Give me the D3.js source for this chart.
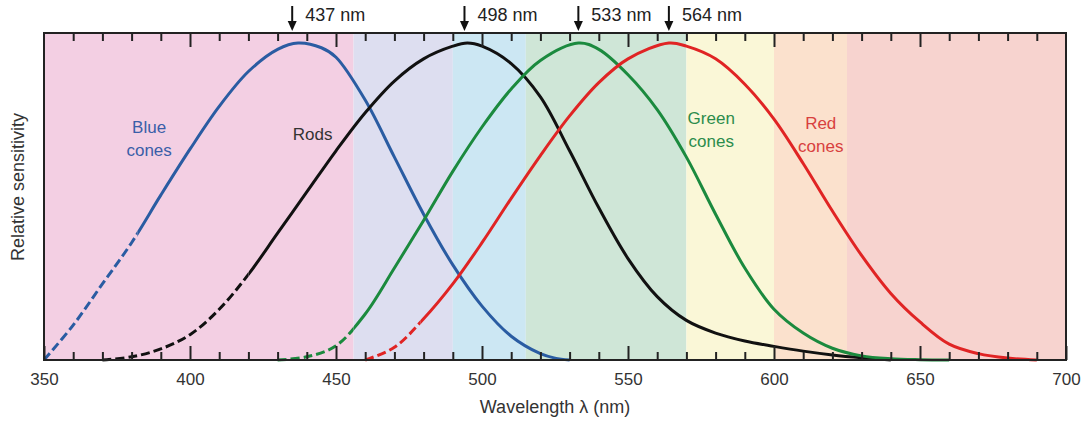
<html>
<head>
<meta charset="utf-8">
<title>Spectral sensitivity</title>
<style>
  body { margin: 0; background: #fff; }
  text { font-family: "Liberation Sans", Arial, sans-serif; }
</style>
<script src="https://d3js.org/d3.v7.min.js"></script>
</head>
<body>
<script>
// background bands (nm) and their colours
var bandStart = [350, 456, 490, 515, 570, 600, 625];
var bandEnd   = [456, 490, 515, 570, 600, 625, 700];
var bandColor = ["#f3cfe3", "#dddef0", "#cce7f3", "#cfe6d7", "#faf7d7", "#fbe1cd", "#f7d3cf"];

// curves
var blueNm  = [350, 360, 370, 380, 390, 400, 410, 420, 430, 437, 445, 450, 460, 470, 480, 490, 500, 510, 520, 525, 530];
var blueVal = [0, 0.11, 0.24, 0.37, 0.52, 0.665, 0.80, 0.91, 0.98, 1.0, 0.985, 0.955, 0.82, 0.64, 0.46, 0.30, 0.17, 0.075, 0.02, 0.006, 0];

var rodNm  = [370, 380, 390, 400, 410, 420, 430, 440, 450, 460, 470, 480, 490, 495, 500, 510, 520, 530, 540, 550, 560, 570, 580, 590, 600, 610, 620, 630, 640];
var rodVal = [0, 0.01, 0.035, 0.08, 0.16, 0.27, 0.40, 0.53, 0.66, 0.78, 0.88, 0.95, 0.99, 1.0, 0.99, 0.935, 0.83, 0.66, 0.48, 0.32, 0.20, 0.125, 0.085, 0.06, 0.043, 0.028, 0.016, 0.007, 0];

var greenNm  = [430, 440, 450, 460, 470, 480, 490, 500, 510, 520, 533, 540, 550, 560, 570, 580, 590, 600, 610, 620, 630, 640, 650, 660];
var greenVal = [0, 0.01, 0.045, 0.145, 0.29, 0.44, 0.595, 0.735, 0.855, 0.945, 1.0, 0.98, 0.90, 0.79, 0.64, 0.46, 0.29, 0.16, 0.085, 0.037, 0.013, 0.004, 0.001, 0];

var redNm  = [460, 470, 480, 490, 500, 510, 520, 530, 540, 550, 564, 570, 580, 590, 600, 610, 620, 630, 640, 650, 660, 670, 680, 690];
var redVal = [0, 0.04, 0.13, 0.24, 0.37, 0.51, 0.645, 0.77, 0.875, 0.95, 1.0, 0.99, 0.95, 0.87, 0.76, 0.62, 0.47, 0.33, 0.21, 0.12, 0.05, 0.02, 0.006, 0];

// where each curve turns from dashed to solid
var dashEnd = [382, 420, 456, 479];
var curveColor = ["#2a5ca2", "#111111", "#1b8a3e", "#e02424"];

// peak markers at the top
var peakNm = [435, 494, 533, 564];
var peakLabel = ["437 nm", "498 nm", "533 nm", "564 nm"];

var xTicks = [350, 400, 450, 500, 550, 600, 650, 700];

var width = 1089, height = 423;
var plotL = 44, plotR = 1066, plotT = 33, plotB = 360;

var svg = d3.select("body").append("svg")
    .attr("width", width)
    .attr("height", height);

var x = d3.scaleLinear().domain([350, 700]).range([plotL, plotR]);
var y = d3.scaleLinear().domain([0, 1]).range([plotB, 43]);

// bands
svg.append("g").selectAll("rect")
    .data(bandStart)
    .enter().append("rect")
    .attr("x", d => x(d))
    .attr("y", plotT)
    .attr("width", (d, i) => x(bandEnd[i]) - x(d))
    .attr("height", plotB - plotT)
    .attr("fill", (d, i) => bandColor[i]);

// clip regions for the dashed / solid parts
var defs = svg.append("defs");
dashEnd.forEach(function (e, i) {
    defs.append("clipPath").attr("id", "dash" + i).append("rect")
        .attr("x", plotL - 5).attr("y", 0)
        .attr("width", x(e) - plotL + 5).attr("height", plotB + 2);
    defs.append("clipPath").attr("id", "solid" + i).append("rect")
        .attr("x", x(e)).attr("y", 0)
        .attr("width", plotR - x(e) + 5).attr("height", plotB + 2);
});

var series = [
    d3.zip(blueNm, blueVal),
    d3.zip(rodNm, rodVal),
    d3.zip(greenNm, greenVal),
    d3.zip(redNm, redVal)
];

var line = d3.line()
    .x(d => x(d[0]))
    .y(d => y(d[1]))
    .curve(d3.curveCatmullRom.alpha(0.5));

var curves = svg.append("g").attr("fill", "none").attr("stroke-width", 3);
series.forEach(function (s, i) {
    curves.append("path")
        .attr("d", line(s))
        .attr("stroke", curveColor[i])
        .attr("stroke-dasharray", "9,4")
        .attr("clip-path", "url(#dash" + i + ")");
    curves.append("path")
        .attr("d", line(s))
        .attr("stroke", curveColor[i])
        .attr("clip-path", "url(#solid" + i + ")");
});

// ticks (inward, top and bottom)
var minor = d3.range(360, 700, 10).filter(d => d % 50 !== 0);
var inner = d3.range(400, 700, 50);

svg.append("g")
    .attr("transform", "translate(0," + plotB + ")")
    .call(d3.axisBottom(x).tickValues(xTicks).tickSizeInner(-14).tickSizeOuter(0).tickPadding(13))
    .call(g => g.select(".domain").remove())
    .call(g => g.selectAll("line").attr("stroke", "#222").attr("stroke-width", 2))
    .call(g => g.selectAll("text").attr("font-size", 17).attr("fill", "#333")
        .attr("font-family", "'Liberation Sans', Arial, sans-serif"));

svg.append("g")
    .attr("transform", "translate(0," + plotB + ")")
    .call(d3.axisBottom(x).tickValues(minor).tickSize(-8).tickFormat(""))
    .call(g => g.select(".domain").remove())
    .call(g => g.selectAll("line").attr("stroke", "#222").attr("stroke-width", 2));

svg.append("g")
    .attr("transform", "translate(0," + plotT + ")")
    .call(d3.axisTop(x).tickValues(inner).tickSize(-14).tickFormat(""))
    .call(g => g.select(".domain").remove())
    .call(g => g.selectAll("line").attr("stroke", "#222").attr("stroke-width", 2));

svg.append("g")
    .attr("transform", "translate(0," + plotT + ")")
    .call(d3.axisTop(x).tickValues(minor).tickSize(-8).tickFormat(""))
    .call(g => g.select(".domain").remove())
    .call(g => g.selectAll("line").attr("stroke", "#222").attr("stroke-width", 2));

// frame
svg.append("rect")
    .attr("x", plotL).attr("y", plotT)
    .attr("width", plotR - plotL).attr("height", plotB - plotT)
    .attr("fill", "none")
    .attr("stroke", "#222")
    .attr("stroke-width", 2);

// peak arrows
var arrows = svg.append("g");
peakNm.forEach(function (p, i) {
    var px = x(p);
    arrows.append("line")
        .attr("x1", px).attr("x2", px)
        .attr("y1", 6).attr("y2", 24)
        .attr("stroke", "#111").attr("stroke-width", 2);
    arrows.append("path")
        .attr("d", "M" + (px - 4.5) + ",21L" + (px + 4.5) + ",21L" + px + ",31Z")
        .attr("fill", "#111");
    arrows.append("text")
        .attr("x", px + 13).attr("y", 21)
        .attr("font-size", 18)
        .attr("fill", "#222")
        .text(peakLabel[i]);
});

// curve labels
var labels = [
    { lines: ["Blue", "cones"], nm: 386, v: 0.716, c: "#3a5ea8" },
    { lines: ["Rods"], nm: 442, v: 0.694, c: "#333" },
    { lines: ["Green", "cones"], nm: 578.5, v: 0.745, c: "#2b8c4c" },
    { lines: ["Red", "cones"], nm: 616, v: 0.73, c: "#d8403e" }
];
labels.forEach(function (l) {
    var t = svg.append("text")
        .attr("text-anchor", "middle")
        .attr("font-size", 17)
        .attr("fill", l.c);
    l.lines.forEach(function (s, k) {
        t.append("tspan")
            .attr("x", x(l.nm))
            .attr("y", y(l.v) + k * 23)
            .text(s);
    });
});

// axis titles
svg.append("text")
    .attr("x", (plotL + plotR) / 2)
    .attr("y", 413)
    .attr("text-anchor", "middle")
    .attr("font-size", 18)
    .attr("fill", "#333")
    .text("Wavelength λ (nm)");

svg.append("text")
    .attr("transform", "translate(24,187) rotate(-90)")
    .attr("text-anchor", "middle")
    .attr("font-size", 18)
    .attr("fill", "#333")
    .text("Relative sensitivity");
</script>
</body>
</html>
